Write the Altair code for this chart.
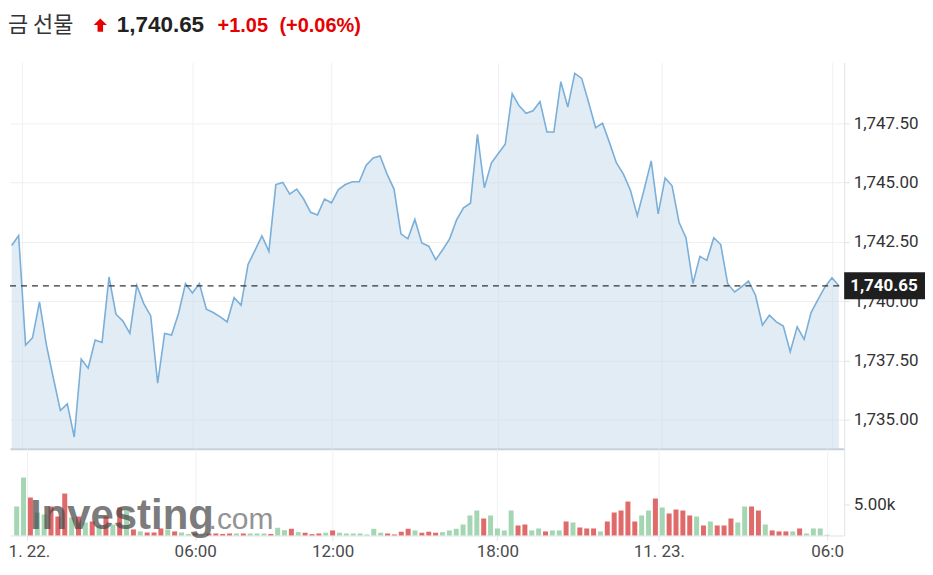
import altair as alt
import pandas as pd

# ---------------- data ----------------
title_name = "금 선물"
last_price = 1740.65
change_text = "+1.05"
change_pct_text = "(+0.06%)"

prices = [
    1742.35, 1742.77, 1738.15, 1738.46, 1739.97, 1738.15, 1736.75, 1735.39, 1735.67, 1734.27,
    1737.56, 1737.17, 1738.36, 1738.26, 1741.02, 1739.45, 1739.16, 1738.64, 1740.67, 1739.90,
    1739.38, 1736.54, 1738.64, 1738.57, 1739.48, 1740.74, 1740.35, 1740.74, 1739.66, 1739.52,
    1739.34, 1739.13, 1740.15, 1739.83, 1741.55, 1742.14, 1742.75, 1742.10, 1744.92, 1745.01,
    1744.52, 1744.73, 1744.31, 1743.75, 1743.64, 1744.31, 1744.15, 1744.71, 1744.92, 1745.04,
    1745.04, 1745.74, 1746.04, 1746.13, 1745.36, 1744.73, 1742.84, 1742.63, 1743.45, 1742.46,
    1742.32, 1741.75, 1742.17, 1742.63, 1743.43, 1743.94, 1744.13, 1747.04, 1744.78, 1745.83,
    1746.23, 1746.62, 1748.75, 1748.24, 1747.93, 1748.03, 1748.42, 1747.14, 1747.14, 1749.26,
    1748.19, 1749.61, 1749.40, 1748.38, 1747.32, 1747.51, 1746.69, 1745.83, 1745.36, 1744.69,
    1743.61, 1744.73, 1745.92, 1743.68, 1745.20, 1744.87, 1743.33, 1742.68, 1740.74, 1741.89,
    1741.72, 1742.68, 1742.39, 1740.74, 1740.39, 1740.60, 1740.85, 1740.25, 1738.99, 1739.41,
    1739.13, 1738.95, 1737.87, 1738.92, 1738.39, 1739.52, 1740.08, 1740.60, 1740.99, 1740.65,
]

volumes = [
    4680, 9360, 6130, 3710, 3390, 4680, 3060, 6770, 2900, 3060,
    2100, 2260, 1610, 3060, 1770, 4520, 4190, 970, 650, 480,
    480, 1130, 970, 650, 480, 240, 320, 320, 320, 320,
    240, 320, 320, 320, 320, 320, 320, 240, 1240, 850,
    1080, 530, 440, 210, 320, 440, 810, 440, 320, 320,
    320, 160, 1080, 440, 320, 160, 600, 1080, 810, 440,
    600, 440, 530, 810, 1080, 1770, 3230, 4030, 2740, 3230,
    1130, 810, 4030, 1610, 1770, 810, 1130, 650, 810, 810,
    2260, 2100, 1290, 1130, 1130, 650, 2260, 3710, 4030, 5480,
    2260, 3230, 4030, 5970, 4520, 3550, 4190, 4030, 3230, 3060,
    1610, 2260, 1610, 1610, 2740, 2100, 4680, 4680, 4030, 1770,
    810, 650, 650, 650, 1130, 320, 1130, 1130, 110, 0,
]

# u = up candle (green volume bar), d = down candle (red volume bar)
directions = [
    "u", "u", "d", "u", "u", "d", "d", "d", "u", "d",
    "u", "d", "u", "d", "u", "d", "u", "d", "u", "d",
    "d", "d", "u", "d", "u", "u", "d", "u", "d", "d",
    "d", "d", "u", "d", "u", "u", "u", "d", "u", "u",
    "d", "u", "d", "d", "d", "u", "d", "u", "u", "u",
    "u", "u", "u", "u", "d", "d", "d", "d", "u", "d",
    "d", "d", "u", "u", "u", "u", "u", "u", "d", "u",
    "u", "u", "u", "d", "d", "u", "u", "d", "u", "u",
    "d", "u", "d", "d", "d", "u", "d", "d", "d", "d",
    "d", "u", "u", "d", "u", "d", "d", "d", "d", "u",
    "d", "u", "d", "d", "d", "u", "u", "d", "d", "u",
    "d", "d", "d", "u", "d", "u", "u", "u", "u", "d",
]

tick_positions = [1.5, 26, 46, 70, 93.5, 118]
tick_labels = ["1. 22.", "06:00", "12:00", "18:00", "11. 23.", "06:0"]
price_ticks = [1735.0, 1737.5, 1740.0, 1742.5, 1745.0, 1747.5]
volume_ticks = [5000]
watermark_main = "Investing"
watermark_suffix = ".com"

# ---------------- tables ----------------
n = len(prices)
df = pd.DataFrame({"i": list(range(n)), "price": prices, "vol": volumes, "dir": directions})
last_df = pd.DataFrame({
    "price": [last_price],
    "hi": [last_price + 0.57],
    "lo": [last_price - 0.57],
    "label": [f"{last_price:,.2f}"],
})
header_df = pd.DataFrame({
    "name": [title_name],
    "px": [f"{last_price:,.2f}"],
    "chg": [change_text],
    "pct": [change_pct_text],
})
wm_df = pd.DataFrame({"a": [watermark_main], "b": [watermark_suffix]})

W = 836
PH = 387
VH = 87
x_dom = [-0.244, 119.76]
y_dom = [1733.78, 1750.07]

labels_js = "[" + ",".join(f"'{l}'" for l in tick_labels) + "]"
pos_js = "[" + ",".join(str(p) for p in tick_positions) + "]"
label_expr = f"{labels_js}[indexof({pos_js}, datum.value)]"

x_scale = alt.Scale(domain=x_dom, nice=False, zero=False)
y_scale = alt.Scale(domain=y_dom, nice=False, zero=False)

x_price_axis = alt.Axis(values=tick_positions, labels=False, ticks=False, grid=True,
                        gridColor="#eef0f3", domain=True, domainColor="#c9ced6",
                        domainWidth=2, title=None)
y_price_axis = alt.Axis(orient="right", values=price_ticks, format=",.2f", grid=True,
                        gridColor="#efefef", tickColor="#dfe3ea", tickSize=5,
                        labelPadding=4, labelFont="Roboto", labelFontSize=17,
                        labelColor="#333333", domainColor="#e0e3eb", title=None)

xp = alt.X("i:Q", scale=x_scale, axis=x_price_axis)
yp = alt.Y("price:Q", scale=y_scale, axis=y_price_axis)

base = alt.Chart(df)
area = base.mark_area(color="#c6d9ea", opacity=0.5, clip=True).encode(
    x=xp, y=yp, y2=alt.datum(y_dom[0])
)
line = base.mark_line(color="#7aafd9", strokeWidth=1.6, clip=True).encode(x=xp, y=yp)

rule = alt.Chart(last_df).mark_rule(color="#333333", strokeDash=[6, 5], strokeWidth=1.2).encode(
    y=yp, x=alt.value(0), x2=alt.value(W - 2)
)
box = alt.Chart(last_df).mark_rect(color="#1f1f1f").encode(
    y=alt.Y("hi:Q", scale=y_scale, axis=y_price_axis),
    y2="lo:Q",
    x=alt.value(W),
    x2=alt.value(W + 81),
)
box_text = alt.Chart(last_df).mark_text(
    align="left", baseline="middle", font="Roboto", fontSize=17, fontWeight="bold", color="white"
).encode(y=yp, x=alt.value(W + 6), text="label:N")

price_chart = alt.layer(area, line, rule, box, box_text).properties(width=W, height=PH)

# ---------------- volume ----------------
x_vol_axis = alt.Axis(values=tick_positions, labelExpr=label_expr, grid=True, gridColor="#eef0f3",
                      tickColor="#dfe3ea", tickSize=5, domainColor="#e0e3eb",
                      labelFont="Roboto", labelFontSize=17, labelColor="#4a4a4a",
                      labelPadding=3, labelFlush=False, labelOverlap=False, title=None,
                      labelOffset={"condition": {"test": "datum.value < 5", "value": 2}, "value": 0})
y_vol_axis = alt.Axis(orient="right", values=volume_ticks,
                      labelExpr="format(datum.value/1000, '.2f') + 'k'", grid=False,
                      tickColor="#dfe3ea", tickSize=5, labelPadding=4, labelFont="Roboto",
                      labelFontSize=17, labelColor="#333333", domainColor="#e0e3eb", title=None)

bars = base.mark_bar(size=5).encode(
    x=alt.X("i:Q", scale=x_scale, axis=x_vol_axis),
    y=alt.Y("vol:Q", scale=alt.Scale(domain=[0, 14030], nice=False), axis=y_vol_axis),
    color=alt.Color("dir:N", scale=alt.Scale(domain=["u", "d"], range=["#a5d6b3", "#e06a6a"]),
                    legend=None),
)
wm1 = alt.Chart(wm_df).mark_text(
    align="left", baseline="alphabetic", font="Liberation Sans", fontSize=42,
    fontWeight="bold", color="#4a4a4a", opacity=0.72
).encode(x=alt.value(20), y=alt.value(81), text="a:N")
wm2 = alt.Chart(wm_df).mark_text(
    align="left", baseline="alphabetic", font="Liberation Sans", fontSize=30,
    color="#6a6a6a", opacity=0.72
).encode(x=alt.value(199), y=alt.value(81), text="b:N")

vol_chart = alt.layer(bars, wm1, wm2).properties(width=W, height=VH)

# ---------------- header ----------------
hbase = alt.Chart(header_df)
h_name = hbase.mark_text(align="left", baseline="alphabetic", font="Noto Sans CJK KR",
                         fontSize=22, color="#333333").encode(
    x=alt.value(-2), y=alt.value(23), text="name:N")
arrow_path = "M0,-1L1,0L0.42,0L0.42,1L-0.42,1L-0.42,0L-1,0Z"
h_arrow = hbase.mark_point(shape=arrow_path, filled=True, color="#e60000", opacity=1,
                           size=175, strokeWidth=0).encode(x=alt.value(90.5), y=alt.value(16.5))
h_px = hbase.mark_text(align="left", baseline="alphabetic", font="Liberation Sans",
                       fontSize=22.5, fontWeight="bold", color="#222222").encode(
    x=alt.value(107), y=alt.value(23), text="px:N")
h_chg = hbase.mark_text(align="left", baseline="alphabetic", font="Liberation Sans",
                        fontSize=20, fontWeight="bold", color="#e60000").encode(
    x=alt.value(208), y=alt.value(23), text="chg:N")
h_pct = hbase.mark_text(align="left", baseline="alphabetic", font="Liberation Sans",
                        fontSize=20, fontWeight="bold", color="#e60000").encode(
    x=alt.value(270), y=alt.value(23), text="pct:N")
header = alt.layer(h_name, h_arrow, h_px, h_chg, h_pct).properties(width=W, height=44)

chart = alt.vconcat(
    header,
    alt.vconcat(price_chart, vol_chart, spacing=0),
    spacing=10,
).properties(padding=0).configure_view(stroke=None)

chart.save("out.html", embed_options={"renderer": "svg", "actions": False})
